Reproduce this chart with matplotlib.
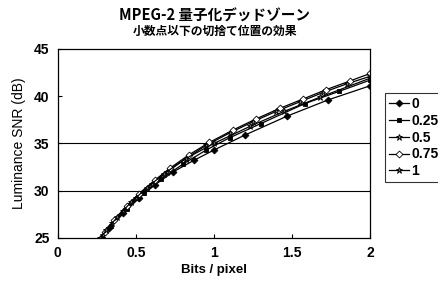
import matplotlib
matplotlib.use("Agg")
import matplotlib.pyplot as plt

plt.rcParams['font.family'] = ['Liberation Sans', 'Noto Sans CJK JP', 'DejaVu Sans']

labels = ["0", "0.25", "0.5", "0.75", "1"]
x0 = [0.28, 0.33, 0.42, 0.52, 0.62, 0.74, 0.87, 1.0, 1.2, 1.47, 1.73, 2.0]
y0 = [25.0, 26.0, 27.6, 29.2, 30.6, 32.0, 33.2, 34.3, 35.9, 37.9, 39.6, 41.1]
x1 = [0.28, 0.34, 0.44, 0.55, 0.66, 0.8, 0.95, 1.1, 1.3, 1.58, 1.8, 2.0]
y1 = [25.0, 26.3, 28.1, 29.8, 31.2, 32.8, 34.3, 35.6, 37.1, 39.2, 40.5, 41.7]
x2 = [0.29, 0.35, 0.42, 0.5, 0.6, 0.7, 0.82, 0.95, 1.1, 1.25, 1.4, 1.55, 1.7, 1.85, 2.0]
y2 = [25.3, 26.6, 27.9, 29.2, 30.7, 32.0, 33.4, 34.8, 36.1, 37.3, 38.4, 39.4, 40.4, 41.3, 42.1]
x3 = [0.3, 0.36, 0.44, 0.52, 0.62, 0.72, 0.84, 0.97, 1.12, 1.27, 1.42, 1.57, 1.72, 1.87, 2.0]
y3 = [25.6, 26.9, 28.4, 29.7, 31.1, 32.4, 33.8, 35.1, 36.4, 37.6, 38.7, 39.7, 40.7, 41.6, 42.4]
x4 = [0.27, 0.31, 0.38, 0.47, 0.57, 0.68, 0.82, 1.0, 1.23, 1.45, 1.68, 2.0]
y4 = [25.0, 25.8, 27.2, 28.8, 30.3, 31.8, 33.4, 35.0, 36.8, 38.4, 39.9, 41.9]

series = [(x0, y0), (x1, y1), (x2, y2), (x3, y3), (x4, y4)]
markers = ['D', 's', '*', 'D', '*']
mfc = ['black', 'black', 'gray', 'white', 'dimgray']
ms = [3.5, 3.5, 5, 3.5, 5]

fig = plt.figure(figsize=(4.38, 2.86), dpi=100)
ax = fig.add_axes([0.132, 0.168, 0.713, 0.661])
for (xs, ys), lab, m, fc, s in zip(series, labels, markers, mfc, ms):
    ax.plot(xs, ys, color='black', lw=0.9, marker=m, markersize=s,
            markerfacecolor=fc, markeredgecolor='black', markeredgewidth=0.6,
            label=lab)

for g in [30, 35]:
    ax.axhline(g, color='black', lw=0.8, zorder=0)

ax.set_xlim(0, 2)
ax.set_ylim(25, 45)
ax.set_xticks([0, 0.5, 1, 1.5, 2])
ax.set_xticklabels(["0", "0.5", "1", "1.5", "2"])
ax.set_yticks([25, 30, 35, 40, 45])
ax.tick_params(direction='in', length=3, width=0.8, labelsize=10, pad=6)
for t in ax.get_xticklabels() + ax.get_yticklabels():
    t.set_fontweight('bold')
for sp in ax.spines.values():
    sp.set_linewidth(0.9)

ax.set_xlabel("Bits / pixel", fontsize=9.5, fontweight='bold', labelpad=3)
ax.set_ylabel("Luminance SNR (dB)", fontsize=10, labelpad=6)

fig.text(0.49, 0.945, "MPEG-2 量子化デッドゾーン", ha='center', va='center',
         fontsize=10.5, fontweight='bold',
         family=['Noto Sans CJK JP', 'DejaVu Sans'])
fig.text(0.49, 0.89, "小数点以下の切捨て位置の効果", ha='center', va='center',
         fontsize=8.5, fontweight='bold',
         family=['Noto Sans CJK JP', 'DejaVu Sans'])

leg = ax.legend(loc='upper left', bbox_to_anchor=(1.048, 0.767), frameon=True,
                fancybox=False, edgecolor='black', fontsize=10, handlelength=1.4,
                handletextpad=0.2, borderpad=0.3, labelspacing=0.2,
                borderaxespad=0)
leg.get_frame().set_linewidth(0.8)
for t in leg.get_texts():
    t.set_fontweight('bold')

fig.savefig("out.png", dpi=100)
